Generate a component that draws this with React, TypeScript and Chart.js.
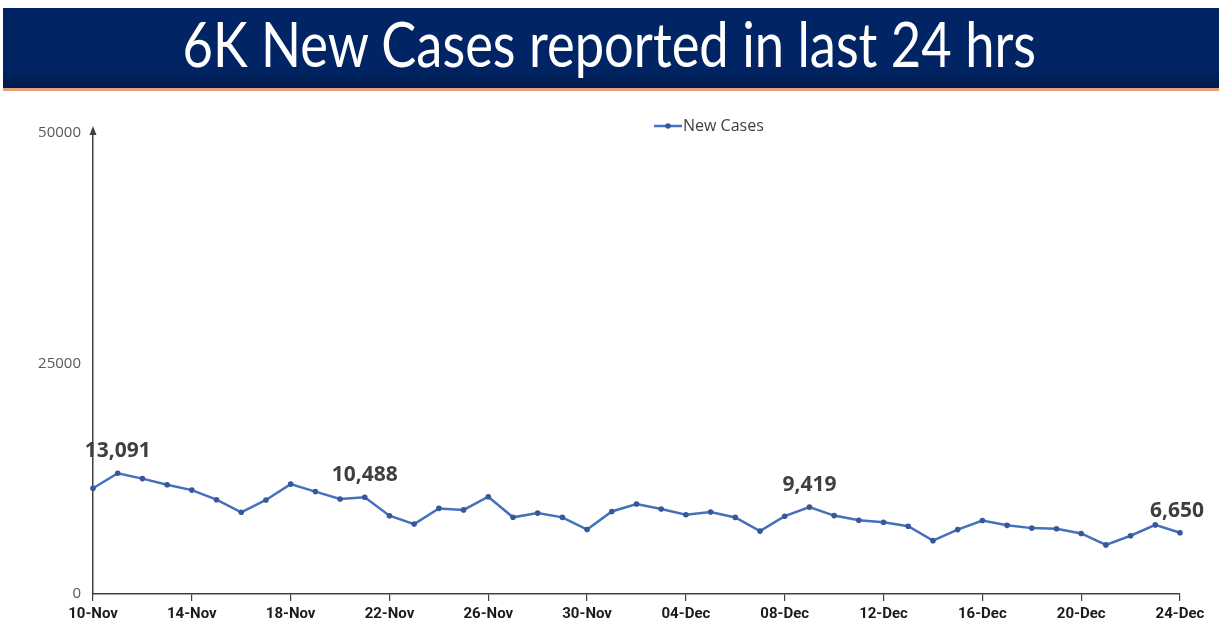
import React, { useEffect, useRef } from "react";
import { Chart, registerables } from "chart.js";

Chart.register(...registerables);

const dates = [
  "10-Nov", "11-Nov", "12-Nov", "13-Nov", "14-Nov", "15-Nov", "16-Nov", "17-Nov",
  "18-Nov", "19-Nov", "20-Nov", "21-Nov", "22-Nov", "23-Nov", "24-Nov", "25-Nov",
  "26-Nov", "27-Nov", "28-Nov", "29-Nov", "30-Nov", "01-Dec", "02-Dec", "03-Dec",
  "04-Dec", "05-Dec", "06-Dec", "07-Dec", "08-Dec", "09-Dec", "10-Dec", "11-Dec",
  "12-Dec", "13-Dec", "14-Dec", "15-Dec", "16-Dec", "17-Dec", "18-Dec", "19-Dec",
  "20-Dec", "21-Dec", "22-Dec", "23-Dec", "24-Dec",
];

const newCases = [
  11466, 13091, 12516, 11850, 11271, 10229, 8865, 10197,
  11919, 11106, 10302, 10488, 8488, 7579, 9283, 9119,
  10549, 8318, 8774, 8309, 6990, 8954, 9765, 9216,
  8603, 8895, 8306, 6822, 8439, 9419, 8503, 7992,
  7774, 7350, 5784, 6984, 7974, 7447, 7145, 7081,
  6563, 5326, 6317, 7495, 6650,
];

const labeledIndices = [1, 11, 29, 44];
const yTicks = [0, 25000, 50000];
const titleText = "6K New Cases reported in last 24 hrs";
const seriesName = "New Cases";

const LINE_BLUE = "#4570bb";
const POINT_BLUE = "#34589a";
const AXIS_COLOR = "#404040";

const extrasPlugin = {
  id: "extras",
  afterDraw(chart: any) {
    const ctx = chart.ctx;
    const area = chart.chartArea;
    // y-axis arrow
    ctx.save();
    ctx.fillStyle = AXIS_COLOR;
    ctx.beginPath();
    ctx.moveTo(area.left, area.top - 7);
    ctx.lineTo(area.left - 3.5, area.top + 2);
    ctx.lineTo(area.left + 3.5, area.top + 2);
    ctx.closePath();
    ctx.fill();
    ctx.restore();

    // legend
    ctx.save();
    const ly = 126;
    ctx.strokeStyle = LINE_BLUE;
    ctx.lineWidth = 2.5;
    ctx.beginPath();
    ctx.moveTo(654, ly);
    ctx.lineTo(682, ly);
    ctx.stroke();
    ctx.fillStyle = POINT_BLUE;
    ctx.beginPath();
    ctx.arc(668, ly, 2.8, 0, Math.PI * 2);
    ctx.fill();
    ctx.fillStyle = "#404040";
    ctx.font = "16px 'Open Sans', sans-serif";
    ctx.textBaseline = "middle";
    ctx.textAlign = "left";
    ctx.fillText(seriesName, 683, ly);
    ctx.restore();

    // data labels
    const meta = chart.getDatasetMeta(0);
    ctx.save();
    ctx.fillStyle = "#3f3f3f";
    ctx.font = "bold 21px 'Open Sans', sans-serif";
    ctx.textAlign = "center";
    ctx.textBaseline = "middle";
    labeledIndices.forEach((i) => {
      const pt = meta.data[i];
      if (!pt) return;
      const txt = newCases[i].toLocaleString("en-US");
      const dx = i === newCases.length - 1 ? -3 : 0;
      ctx.fillText(txt, pt.x + dx, pt.y - 22);
    });
    ctx.restore();
  },
};

export default function App() {
  const canvasRef = useRef<HTMLCanvasElement | null>(null);

  useEffect(() => {
    if (!canvasRef.current) return;
    const chart = new Chart(canvasRef.current, {
      type: "line",
      data: {
        labels: dates,
        datasets: [
          {
            label: seriesName,
            data: newCases,
            borderColor: LINE_BLUE,
            backgroundColor: POINT_BLUE,
            borderWidth: 2.5,
            pointRadius: 2.8,
            pointBackgroundColor: POINT_BLUE,
            pointBorderWidth: 0,
            tension: 0,
          },
        ],
      },
      options: {
        responsive: false,
        animation: false,
        layout: { padding: { top: 133, right: 39, left: 0, bottom: 0 } },
        plugins: {
          legend: { display: false },
          tooltip: { enabled: false },
          title: { display: false },
        },
        scales: {
          x: {
            type: "category",
            offset: false,
            afterFit: (scale: any) => {
              scale.height = 45;
            },
            grid: {
              display: true,
              drawOnChartArea: false,
              drawTicks: true,
              tickLength: 7,
              color: (c: any) => (c.index % 4 === 0 ? AXIS_COLOR : "rgba(0,0,0,0)"),
              tickColor: (c: any) => (c.index % 4 === 0 ? AXIS_COLOR : "rgba(0,0,0,0)"),
              lineWidth: 1.2,
            },
            border: { display: true, color: AXIS_COLOR, width: 1.5 },
            ticks: {
              autoSkip: false,
              maxRotation: 0,
              minRotation: 0,
              padding: 4,
              color: "#1a1a1a",
              font: { family: "Roboto, sans-serif", size: 15, weight: "bold" },
              callback: (_v: any, i: number) => (i % 4 === 0 ? dates[i] : ""),
            },
          },
          y: {
            min: 0,
            max: 50000,
            afterFit: (scale: any) => {
              scale.width = 93;
            },
            afterBuildTicks: (scale: any) => {
              scale.ticks = yTicks.map((v) => ({ value: v }));
            },
            grid: { display: false },
            border: { display: true, color: AXIS_COLOR, width: 1.5 },
            ticks: {
              padding: 4,
              color: "#595959",
              font: { family: "'Open Sans', sans-serif", size: 15 },
              callback: (v: any) => String(v),
            },
          },
        },
      },
      plugins: [extrasPlugin],
    });
    return () => chart.destroy();
  }, []);

  return (
    <div style={{ position: "absolute", left: 0, top: 0, width: 1219, height: 639, background: "#ffffff", overflow: "hidden" }}>
      <canvas ref={canvasRef} width={1219} height={639} style={{ position: "absolute", left: 0, top: 0 }} />
      <div
        style={{
          position: "absolute",
          left: 3,
          top: 8,
          width: 1216,
          height: 80,
          background: "linear-gradient(#002464 0%, #002464 75%, #001a4d 100%)",
          borderBottom: "3px solid #e0a27a",
        }}
      />
      <div
        style={{
          position: "absolute",
          left: 0,
          top: 7,
          width: 1219,
          textAlign: "center",
          fontFamily: "Lato, sans-serif",
          fontSize: 61,
          lineHeight: "73px",
          color: "#ffffff",
          whiteSpace: "nowrap",
        }}
      >
        <span style={{ display: "inline-block", transform: "scaleX(0.86)", transformOrigin: "center" }}>{titleText}</span>
      </div>
    </div>
  );
}
